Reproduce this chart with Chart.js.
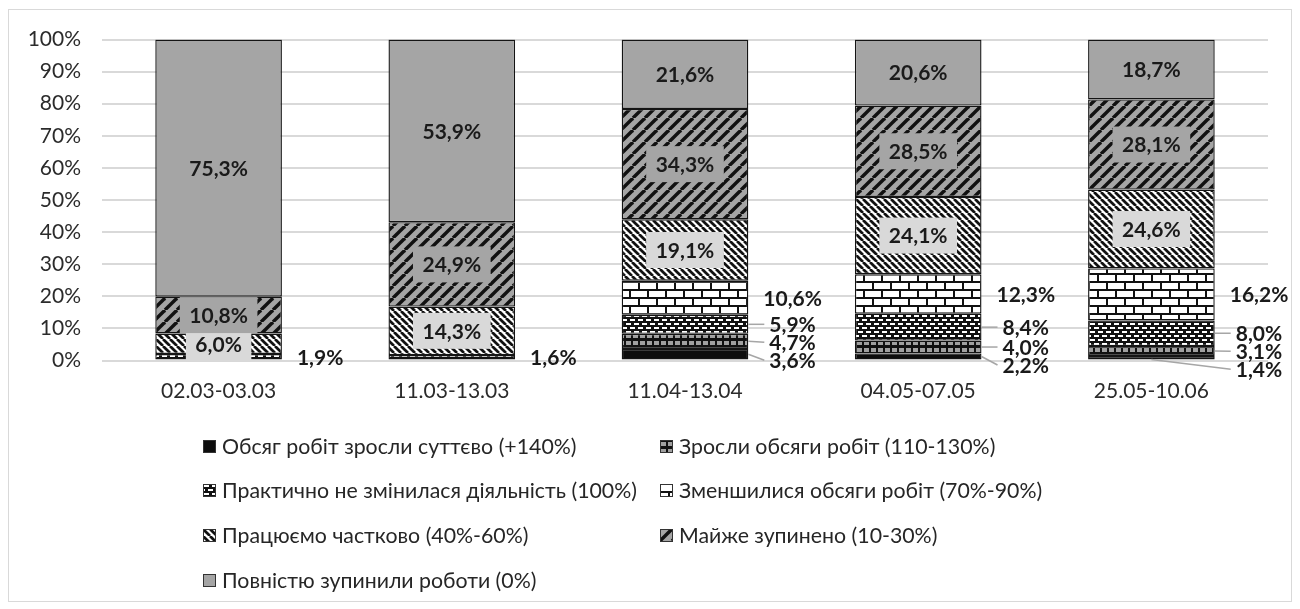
<!DOCTYPE html>
<html><head><meta charset="utf-8">
<script src="https://cdn.jsdelivr.net/npm/chart.js@4.4.0/dist/chart.umd.min.js"></script>
<style>
html,body{margin:0;padding:0;background:#fff;width:1300px;height:609px;overflow:hidden;font-family:Lato,sans-serif;}
#box{position:absolute;left:8px;top:9px;width:1282px;height:591px;border:1px solid #d9d9d9;background:#fff;}
#cwrap{position:absolute;left:0;top:0;width:1282px;height:420px;}
#legend{position:absolute;left:0;top:0;width:1282px;height:591px;pointer-events:none;}
.li{position:absolute;display:flex;align-items:center;height:30px;margin-top:-15px;font:21.3px Lato,sans-serif;color:#262626;white-space:nowrap;}
.li canvas{width:13px;height:13px;margin-right:6px;display:block;}
</style></head><body>
<div id="box"><div id="cwrap"><canvas id="c"></canvas></div><div id="legend"></div></div>
<script>
// ---- data ----
const categories = ['02.03-03.03', '11.03-13.03', '11.04-13.04', '04.05-07.05', '25.05-10.06'];
const seriesNames = [
  'Обсяг робіт зросли суттєво (+140%)',
  'Зросли обсяги робіт (110-130%)',
  'Практично не змінилася діяльність (100%)',
  'Зменшилися обсяги робіт (70%-90%)',
  'Працюємо частково (40%-60%)',
  'Майже зупинено (10-30%)',
  'Повністю зупинили роботи (0%)'
];
const growStrong   = [null, null, 3.6, 2.2, 1.4];
const grow         = [null, null, 4.7, 4.0, 3.1];
const unchanged    = [1.9, 1.6, 5.9, 8.4, 8.0];
const decreased    = [null, null, 10.6, 12.3, 16.2];
const partial      = [6.0, 14.3, 19.1, 24.1, 24.6];
const almostStop   = [10.8, 24.9, 34.3, 28.5, 28.1];
const fullStop     = [75.3, 53.9, 21.6, 20.6, 18.7];
const yTicks = [0, 10, 20, 30, 40, 50, 60, 70, 80, 90, 100];

const seriesValues = [growStrong, grow, unchanged, decreased, partial, almostStop, fullStop];
const totals = categories.map((_, j) => seriesValues.reduce((a, s) => a + (s[j] || 0), 0));
const share = s => s.map((v, j) => v == null ? null : v / totals[j] * 100);
const fmt = v => v.toFixed(1).replace('.', ',') + '%';

// ---- patterns ----
const GRAY = '#a5a5a5';
function makeTile(kind) {
  const t = document.createElement('canvas');
  const g = t.getContext('2d');
  function size(w, h) { t.width = w; t.height = h; }
  if (kind === 0) { size(4, 4); g.fillStyle = '#0d0d0d'; g.fillRect(0, 0, 4, 4); }
  else if (kind === 1) { size(7, 7); g.fillStyle = '#111'; g.fillRect(0, 0, 7, 7); g.fillStyle = '#a0a0a0'; g.fillRect(1, 2, 5, 4); }
  else if (kind === 2) {
    size(8, 8); g.fillStyle = '#111'; g.fillRect(0, 0, 8, 8); g.fillStyle = '#fff';
    g.fillRect(1, 1, 5, 2); g.fillRect(5, 5, 3, 2); g.fillRect(0, 5, 2, 2);
  }
  else if (kind === 3) {
    size(18, 16); g.fillStyle = '#111'; g.fillRect(0, 0, 18, 16); g.fillStyle = '#fff';
    g.fillRect(1, 1, 16, 6); g.fillRect(0, 9, 8, 6); g.fillRect(10, 9, 8, 6);
  }
  else if (kind === 4) {
    const n = 7; size(n, n); g.fillStyle = '#fff'; g.fillRect(0, 0, n, n);
    g.strokeStyle = '#111'; g.lineWidth = 2.7;
    for (const k of [-n, 0, n]) { g.beginPath(); g.moveTo(k, 0); g.lineTo(k + n, n); g.stroke(); }
  }
  else if (kind === 5) {
    const n = 12; size(n, n); g.fillStyle = GRAY; g.fillRect(0, 0, n, n);
    g.strokeStyle = '#111'; g.lineWidth = 3.4;
    for (const k of [-n, 0, n]) { g.beginPath(); g.moveTo(k, n); g.lineTo(k + n, 0); g.stroke(); }
  }
  else { size(4, 4); g.fillStyle = GRAY; g.fillRect(0, 0, 4, 4); }
  return t;
}
const canvas = document.getElementById('c');
const mainCtx = canvas.getContext('2d');
const patterns = seriesNames.map((_, i) => mainCtx.createPattern(makeTile(i), 'repeat'));
const labelBoxColors = [null, null, null, null, '#d9d9d9', GRAY, null];

// ---- labels plugin ----
const valueLabels = {
  id: 'valueLabels',
  afterDatasetsDraw(chart) {
    const ctx = chart.ctx;
    ctx.save();
    ctx.font = 'bold 21px Lato, sans-serif';
    ctx.textBaseline = 'middle';
    chart.data.datasets.forEach((ds, i) => {
      if (i < 4) return;
      chart.getDatasetMeta(i).data.forEach((bar, j) => {
        const v = ds.rawValues[j];
        if (v == null) return;
        const cy = (bar.y + bar.base) / 2;
        const txt = fmt(v);
        const w = ctx.measureText(txt).width;
        if (labelBoxColors[i]) {
          ctx.fillStyle = labelBoxColors[i];
          ctx.fillRect(bar.x - w / 2 - 9.5, cy - 18, w + 19, 36);
        }
        ctx.fillStyle = '#1a1a1a';
        ctx.textAlign = 'center';
        ctx.fillText(txt, bar.x, cy + 1);
      });
    });
    categories.forEach((c, j) => {
      const items = [];
      for (let i = 0; i < 4; i++) {
        const v = chart.data.datasets[i].rawValues[j];
        if (v == null) continue;
        const bar = chart.getDatasetMeta(i).data[j];
        items.push({ i, v, bar, cy: (bar.y + bar.base) / 2 });
      }
      items.sort((a, b) => a.cy - b.cy);
      let prev = -1e9;
      items.forEach(it => { it.ly = Math.max(it.cy, prev + 18); prev = it.ly; });
      const multi = items.length > 1;
      items.forEach(it => {
        const right = it.bar.x + it.bar.width / 2;
        let lx = right + 15;
        if (multi && it.i < 3) {
          lx = right + 21;
          ctx.strokeStyle = '#a6a6a6';
          ctx.lineWidth = 1.5;
          ctx.beginPath();
          if (it.ly - it.cy > 9) ctx.moveTo(it.bar.x, it.bar.base); else ctx.moveTo(right, it.cy);
          ctx.lineTo(lx - 5, it.ly);
          ctx.stroke();
        }
        ctx.fillStyle = '#1a1a1a';
        ctx.textAlign = 'left';
        ctx.fillText(fmt(it.v), lx, it.ly + 1);
      });
    });
    ctx.restore();
  }
};

const chart = new Chart(canvas, {
  type: 'bar',
  data: {
    labels: categories,
    datasets: seriesValues.map((vals, i) => ({
      label: seriesNames[i],
      data: share(vals),
      rawValues: vals,
      backgroundColor: patterns[i],
      borderColor: '#141414',
      borderWidth: 1.4,
      borderSkipped: false,
      barPercentage: 0.543,
      categoryPercentage: 1
    }))
  },
  options: {
    responsive: true,
    maintainAspectRatio: false,
    animation: false,
    events: [],
    layout: { padding: { left: 0, right: 23, top: 29.5, bottom: 0 } },
    plugins: { legend: { display: false }, tooltip: { enabled: false } },
    scales: {
      x: {
        stacked: true,
        grid: { display: false, drawTicks: false },
        border: { display: false },
        ticks: { color: '#2b2b2b', font: { family: 'Lato', size: 21 }, padding: 18 },
        afterFit(s) { s.height = 69.5; }
      },
      y: {
        stacked: true,
        min: 0, max: 100,
        afterBuildTicks(s) { s.ticks = yTicks.map(v => ({ value: v })); },
        grid: { color: '#d9d9d9', lineWidth: 2, drawTicks: false },
        border: { display: false },
        ticks: { color: '#2b2b2b', font: { family: 'Lato', size: 21 }, padding: 21, callback: v => v + '%' },
        afterFit(s) { s.width = 93; s.paddingTop = 0; s.paddingBottom = 0; }
      }
    }
  },
  plugins: [valueLabels]
});

// ---- legend (HTML, 2 columns like the original) ----
const legendCols = [194, 651];
const legendRows = [436, 480, 525, 570];
const legendEl = document.getElementById('legend');
chart.data.datasets.forEach((ds, i) => {
  const item = document.createElement('div');
  item.className = 'li';
  item.style.left = legendCols[i % 2] + 'px';
  item.style.top = legendRows[Math.floor(i / 2)] + 'px';
  const sw = document.createElement('canvas');
  sw.width = 13; sw.height = 13;
  const g = sw.getContext('2d');
  g.fillStyle = g.createPattern(makeTile(i), 'repeat');
  g.fillRect(0, 0, 13, 13);
  g.strokeStyle = '#333'; g.lineWidth = 1; g.strokeRect(0.5, 0.5, 12, 12);
  const span = document.createElement('span');
  span.textContent = ds.label;
  item.appendChild(sw); item.appendChild(span);
  legendEl.appendChild(item);
});
</script>
</body></html>
